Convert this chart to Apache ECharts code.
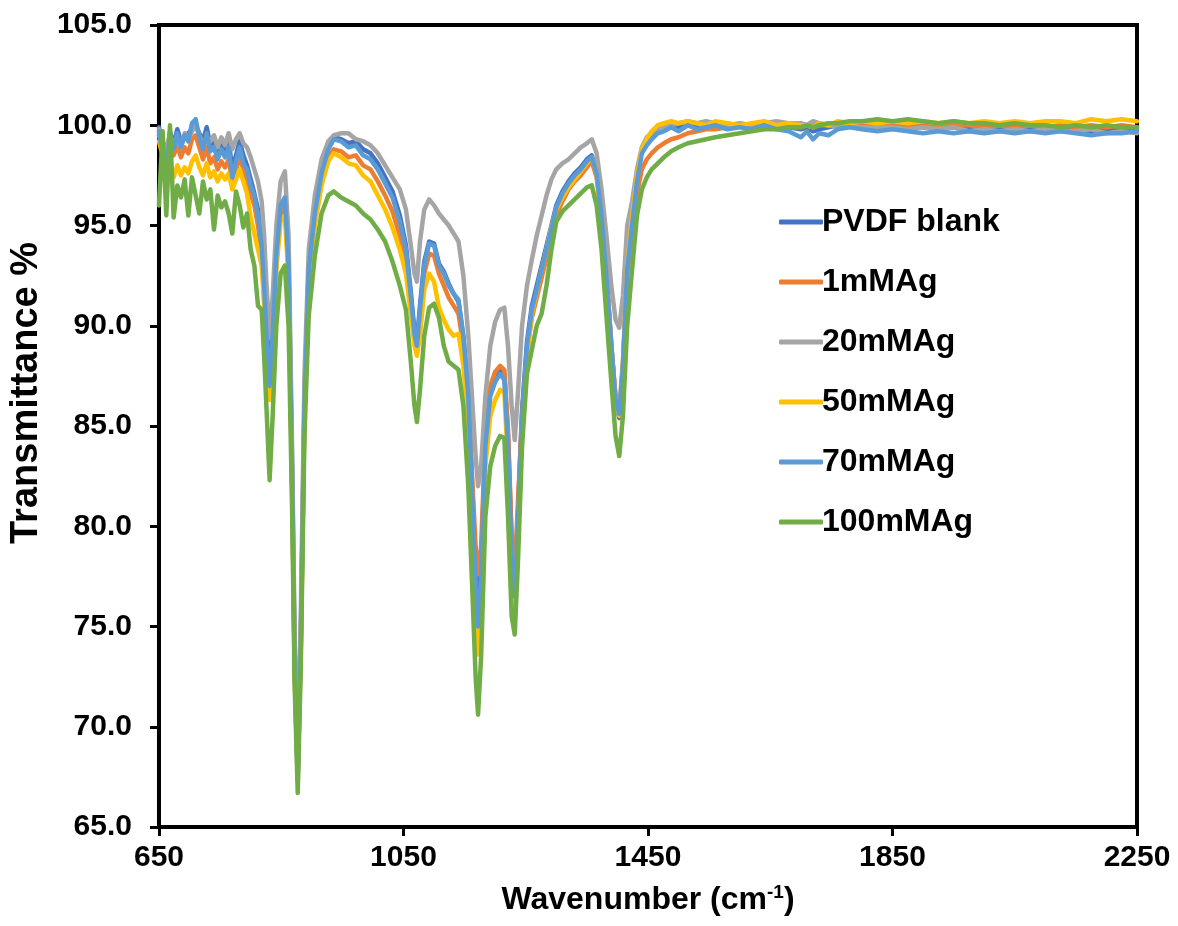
<!DOCTYPE html>
<html>
<head>
<meta charset="utf-8">
<title>FTIR spectra</title>
<script src="https://cdn.jsdelivr.net/npm/echarts@6/dist/echarts.min.js"></script>
<style>
  html, body { margin: 0; padding: 0; background: #fff; }
  #chart { width: 1178px; height: 926px; }
</style>
</head>
<body>
<div id="chart"></div>
<script>
// wavenumber grid (cm-1), shared by every spectrum
const wavenumber = [
  650, 656, 662, 668, 674, 680, 686, 692, 698, 704,
  710, 716, 722, 728, 734, 740, 746, 752, 758, 764,
  770, 776, 782, 788, 794, 800,
  806, 812, 818, 822, 826, 831, 836, 842, 849, 856,
  862, 868, 872, 877, 882, 888, 895, 905, 916, 927,
  936, 948, 960, 972, 984, 996, 1008, 1020, 1032, 1044,
  1054, 1062, 1068, 1072, 1077, 1084, 1092, 1100, 1108, 1116,
  1124, 1132, 1140, 1148, 1156, 1163, 1168, 1172, 1177, 1184,
  1192, 1200, 1208, 1215, 1221, 1227, 1232, 1237, 1244, 1252,
  1260, 1268, 1276, 1284, 1292, 1300, 1310, 1320, 1330, 1340,
  1350, 1358, 1366, 1374, 1382, 1390, 1397, 1403, 1409, 1416,
  1424, 1432, 1440, 1448, 1456, 1466, 1476, 1488, 1500, 1515,
  1530, 1545, 1560, 1580, 1600, 1620, 1640, 1660, 1680, 1700,
  1710, 1720, 1730, 1745, 1760, 1780, 1800, 1825, 1850, 1875,
  1900, 1925, 1950, 1975, 2000, 2025, 2050, 2075, 2100, 2125,
  2150, 2175, 2200, 2225, 2250
];

// transmittance %
const pvdfBlank = [
  99.9, 99.1, 98.4, 99.7, 99.0, 99.8, 99.2, 99.4, 99.6, 99.8,
  100.0, 99.6, 99.2, 99.9, 99.0, 99.3, 98.7, 99.1, 98.8, 99.2,
  97.8, 98.5, 99.2, 98.5, 98.0, 97.3,
  96.6, 95.8, 94.3, 92.3, 89.8, 87.5, 89.8, 93.6, 95.9, 96.2,
  93.2, 82.5, 73.5, 67.6, 74.5, 86.3, 92.9, 95.8, 97.8, 99.0,
  99.4, 99.3, 99.1, 99.2, 98.8, 98.6, 98.1, 97.4, 96.7, 95.5,
  94.0, 91.7, 89.7, 89.2, 91.0, 93.2, 94.2, 94.1, 93.1, 92.7,
  92.1, 91.6, 91.2, 89.4, 86.6, 81.5, 77.8, 76.0, 78.0, 84.3,
  86.7, 87.4, 87.8, 87.6, 84.5, 79.2, 77.2, 80.5, 85.8, 89.2,
  91.0, 92.0, 93.0, 94.0, 95.0, 96.0, 96.7, 97.2, 97.6, 97.9,
  98.3, 98.5, 97.7, 95.6, 92.6, 89.1, 86.2, 85.4, 87.9, 92.7,
  95.2, 97.4, 98.8, 99.2, 99.5, 99.7, 99.9, 100.0, 99.9, 100.1,
  100.0, 100.1, 100.0, 99.9, 100.0, 99.9, 100.1, 99.9, 99.9, 99.8,
  99.9, 99.7, 99.8, 99.9, 100.0, 100.0, 99.9, 99.9, 100.0, 99.9,
  99.9, 99.8, 99.9, 99.8, 99.9, 99.8, 99.9, 99.8, 99.9, 99.8,
  99.8, 99.7, 99.8, 99.7, 99.8
];

const ag1mM = [
  99.5, 98.8, 98.3, 99.1, 98.5, 99.0, 98.4, 98.9, 98.6, 99.3,
  99.5, 98.9, 98.3, 98.9, 98.1, 98.4, 97.8, 98.2, 97.9, 98.3,
  97.2, 97.7, 98.5, 97.8, 97.3, 96.6,
  96.0, 95.0, 93.5, 91.5, 89.0, 86.8, 89.2, 93.2, 95.6, 96.0,
  92.6, 81.8, 72.8, 67.6, 74.0, 85.8, 92.4, 95.2, 97.2, 98.4,
  98.8, 98.7, 98.4, 98.5, 98.0, 97.8, 97.2, 96.5, 95.7, 94.5,
  93.2, 91.0, 89.2, 88.7, 90.4, 92.6, 93.6, 93.5, 92.6, 92.0,
  91.4, 91.0, 90.6, 89.0, 86.5, 82.0, 79.0, 77.6, 79.0, 84.5,
  87.0, 87.7, 88.0, 87.8, 84.8, 79.5, 77.8, 81.0, 85.6, 88.6,
  90.4, 91.4, 92.4, 93.4, 94.4, 95.5, 96.2, 96.8, 97.2, 97.5,
  97.9, 98.2, 97.4, 95.3, 92.4, 89.0, 86.5, 85.8, 88.2, 92.6,
  94.6, 96.6, 97.8, 98.3, 98.6, 98.9, 99.1, 99.3, 99.4, 99.6,
  99.7, 99.8, 99.8, 99.9, 100.0, 99.9, 100.1, 100.0, 99.9, 99.9,
  100.0, 99.9, 100.0, 100.0, 100.1, 100.0, 100.1, 100.0, 100.1, 100.0,
  100.0, 99.9, 100.0, 100.0, 99.9, 100.0, 99.9, 100.0, 99.9, 100.0,
  99.9, 100.0, 99.9, 100.0, 99.9
];

const ag20mM = [
  99.8, 99.2, 98.8, 99.5, 99.0, 99.4, 98.9, 99.6, 99.3, 99.7,
  100.0, 99.5, 99.0, 99.4, 99.2, 99.5, 98.9, 99.4, 99.0, 99.6,
  98.8, 99.3, 99.6, 99.1, 98.9, 98.4,
  97.8, 97.2, 96.2, 94.5, 92.0, 89.5, 91.5, 95.0, 97.2, 97.7,
  94.5, 83.5, 74.5, 68.5, 75.5, 87.5, 93.8, 96.5, 98.3, 99.2,
  99.5, 99.6, 99.6, 99.3, 99.2, 99.0, 98.6, 98.0, 97.4, 96.8,
  95.8, 94.0, 92.6, 92.2, 94.2, 95.8, 96.3, 96.0, 95.6, 95.3,
  95.0, 94.6, 94.2, 92.5, 89.5, 86.0, 83.5, 82.0, 83.0, 86.5,
  89.0, 90.2, 90.8, 90.9, 89.0, 86.0, 84.3, 86.5, 90.0, 92.0,
  93.3, 94.5, 95.5, 96.5, 97.3, 97.8, 98.1, 98.3, 98.6, 98.9,
  99.1, 99.3, 98.6, 96.8, 94.5, 92.0, 90.3, 89.9, 91.5, 95.0,
  96.2, 97.8, 98.9, 99.4, 99.6, 99.8, 99.9, 100.0, 100.1, 100.2,
  100.1, 100.2, 100.1, 100.0, 100.1, 100.0, 100.1, 100.2, 100.1, 100.1,
  100.0, 100.2, 100.1, 100.0, 99.9, 100.0, 99.9, 99.9, 99.9, 99.8,
  99.9, 99.8, 99.9, 99.7, 99.8, 99.7, 99.8, 99.7, 99.8, 99.7,
  99.7, 99.8, 99.6, 99.7, 99.6
];

const ag50mM = [
  99.2, 98.5, 97.6, 97.9, 97.4, 98.0, 97.5, 97.9, 97.6, 98.2,
  98.5, 97.9, 97.5, 98.1, 97.4, 97.7, 97.2, 97.6, 97.3, 97.6,
  96.8, 97.3, 97.8, 97.2, 96.6, 95.4,
  94.6, 93.8, 93.0, 91.0, 88.5, 86.3, 88.8, 92.8, 95.2, 95.5,
  92.3, 81.5, 72.5, 67.5, 73.8, 85.5, 92.2, 95.0, 97.0, 98.2,
  98.6, 98.4, 98.1, 98.0, 97.5, 97.2, 96.5, 95.8, 94.9, 93.8,
  92.6, 90.6, 89.0, 88.5, 89.5, 91.8, 92.6, 92.2, 90.9, 90.3,
  89.8, 89.5, 89.6, 88.0, 85.0, 79.5, 75.5, 73.6, 76.0, 83.0,
  85.5, 86.3, 86.8, 86.7, 83.0, 77.5, 76.0, 79.5, 85.0, 88.5,
  90.6, 91.7, 92.8, 93.8, 94.9, 95.8, 96.4, 96.9, 97.3, 97.7,
  98.1, 98.4, 97.6, 95.4, 92.4, 88.9, 86.2, 85.5, 88.0, 93.0,
  95.4, 97.5, 98.8, 99.3, 99.7, 100.0, 100.1, 100.2, 100.1, 100.2,
  100.1, 100.0, 100.2, 100.1, 100.0, 100.1, 100.2, 100.0, 100.1, 100.0,
  100.0, 99.9, 100.1, 100.0, 100.2, 100.1, 100.2, 100.1, 100.2, 100.1,
  100.2, 100.1, 100.2, 100.1, 100.2, 100.1, 100.2, 100.1, 100.2, 100.2,
  100.1, 100.3, 100.2, 100.3, 100.2
];

const ag70mM = [
  99.7, 98.6, 98.0, 99.4, 98.8, 99.6, 98.9, 99.5, 99.2, 100.1,
  100.3, 99.4, 98.8, 99.6, 98.7, 98.9, 98.3, 98.8, 98.4, 98.9,
  97.4, 98.2, 98.9, 98.1, 97.8, 97.0,
  96.5, 95.5, 94.0, 92.0, 89.5, 87.0, 89.5, 93.5, 96.0, 96.4,
  93.0, 82.0, 73.0, 67.3, 74.0, 86.0, 92.8, 95.6, 97.6, 98.8,
  99.3, 99.2, 98.9, 99.0, 98.5, 98.3, 97.8, 97.1, 96.4, 95.2,
  93.8, 91.5, 89.6, 89.0, 90.8, 93.0, 94.1, 94.0, 93.0, 92.6,
  92.0, 91.6, 91.3, 89.5, 86.5, 81.0, 77.0, 75.0, 77.5, 84.0,
  86.5, 87.2, 87.6, 87.3, 84.0, 78.5, 76.5, 80.0, 85.5, 89.0,
  90.8, 91.8, 92.8, 93.8, 94.8, 95.9, 96.6, 97.1, 97.5, 97.8,
  98.2, 98.4, 97.6, 95.5, 92.5, 89.0, 86.3, 85.6, 88.0, 92.8,
  95.0, 97.2, 98.6, 99.0, 99.3, 99.6, 99.7, 99.9, 99.7, 100.0,
  99.8, 99.9, 100.0, 99.8, 99.9, 99.8, 100.0, 99.8, 99.7, 99.4,
  99.7, 99.3, 99.6, 99.5, 99.8, 99.9, 99.8, 99.7, 99.8, 99.7,
  99.6, 99.7, 99.6, 99.7, 99.6, 99.7, 99.6, 99.7, 99.6, 99.7,
  99.6, 99.5, 99.6, 99.6, 99.7
];

const ag100mM = [
  96.0, 99.7, 95.5, 100.0, 95.4, 97.0, 96.4, 97.3, 95.5, 97.4,
  96.5, 95.6, 97.2, 96.3, 96.8, 94.8, 96.5, 95.9, 96.2, 95.6,
  94.6, 96.7, 96.0, 94.9, 95.6, 93.8,
  93.0, 91.0, 90.8, 88.5, 85.8, 82.3, 85.5, 90.0, 92.6, 93.0,
  90.0, 80.5, 72.0, 66.7, 73.0, 84.5, 90.5, 93.5, 95.6, 96.5,
  96.7, 96.4, 96.2, 96.0, 95.6, 95.3, 94.8, 94.2, 93.2, 92.0,
  90.8, 88.2, 86.0, 85.2, 86.8, 89.5, 90.9, 91.1, 90.4, 89.0,
  88.2, 88.0, 87.8, 86.0, 82.0, 76.5, 72.5, 70.6, 73.5, 80.5,
  83.0, 84.0, 84.5, 84.4, 80.5, 75.5, 74.6, 78.0, 84.0, 87.6,
  88.8, 90.0, 90.6, 92.0, 93.8, 95.2, 95.7, 96.0, 96.3, 96.6,
  96.9, 97.0, 96.0, 93.8, 90.5, 87.2, 84.5, 83.5, 85.5, 90.0,
  92.8, 95.5, 96.8, 97.4, 97.8, 98.1, 98.4, 98.7, 98.9, 99.1,
  99.2, 99.3, 99.4, 99.5, 99.6, 99.7, 99.8, 99.8, 99.9, 99.9,
  100.0, 99.9, 100.0, 100.1, 100.1, 100.2, 100.2, 100.3, 100.2, 100.3,
  100.2, 100.1, 100.2, 100.1, 100.1, 100.0, 100.1, 100.0, 100.0, 99.9,
  100.0, 99.9, 100.0, 99.9, 99.9
];

const seriesNames = ['PVDF blank', '1mMAg', '20mMAg', '50mMAg', '70mMAg', '100mMAg'];
const seriesValues = [pvdfBlank, ag1mM, ag20mM, ag50mM, ag70mM, ag100mM];
const seriesColors = ['#4472C4', '#ED7D31', '#A5A5A5', '#FFC000', '#5B9BD5', '#70AD47'];

seriesValues.forEach(function (arr, i) {
  if (arr.length !== wavenumber.length) {
    throw new Error(seriesNames[i] + ' has ' + arr.length + ' values, expected ' + wavenumber.length);
  }
});

const FONT = "'Liberation Sans', Arial, sans-serif";

const chart = echarts.init(document.getElementById('chart'));

chart.setOption({
  animation: false,
  color: seriesColors,
  grid: {
    left: 157,
    right: 41,
    top: 25,
    bottom: 99,
    show: true,
    borderColor: '#000',
    borderWidth: 4
  },
  legend: {
    orient: 'vertical',
    left: 774,
    top: 201,
    icon: 'roundRect',
    itemWidth: 44,
    itemHeight: 5,
    itemGap: 28,
    textStyle: {
      fontFamily: FONT,
      fontWeight: 'bold',
      fontSize: 32,
      color: '#000',
      padding: [0, 0, 0, -6]
    },
    data: seriesNames
  },
  xAxis: {
    type: 'value',
    min: 650,
    max: 2250,
    interval: 400,
    name: 'Wavenumber (cm{sup|-1})',
    nameLocation: 'middle',
    nameGap: 56,
    nameTextStyle: {
      fontFamily: FONT,
      fontWeight: 'bold',
      fontSize: 32,
      color: '#000',
      rich: {
        sup: {
          fontFamily: FONT,
          fontWeight: 'bold',
          fontSize: 19,
          color: '#000',
          padding: [0, 0, 15, 0]
        }
      }
    },
    axisLine: { show: true, lineStyle: { color: '#000', width: 4 } },
    axisTick: { show: true, inside: false, length: 9, lineStyle: { color: '#000', width: 3 } },
    axisLabel: {
      margin: 16,
      fontFamily: FONT,
      fontWeight: 'bold',
      fontSize: 30,
      color: '#000',
      formatter: function (v) { return String(v); }
    },
    splitLine: { show: false }
  },
  yAxis: {
    type: 'value',
    min: 65,
    max: 105,
    interval: 5,
    name: 'Transmittance %',
    nameLocation: 'middle',
    nameRotate: 90,
    nameGap: 111,
    nameTextStyle: {
      fontFamily: FONT,
      fontWeight: 'bold',
      fontSize: 38,
      color: '#000',
      padding: [0, 0, 0, 66]
    },
    axisLine: { show: true, lineStyle: { color: '#000', width: 4 } },
    axisTick: { show: true, inside: false, length: 9, lineStyle: { color: '#000', width: 3 } },
    axisLabel: {
      margin: 27,
      fontFamily: FONT,
      fontWeight: 'bold',
      fontSize: 30,
      color: '#000',
      formatter: function (v) { return v.toFixed(1); }
    },
    splitLine: { show: false }
  },
  series: seriesNames.map(function (name, i) {
    return {
      name: name,
      type: 'line',
      showSymbol: false,
      symbol: 'none',
      smooth: false,
      lineStyle: { width: 4.5, color: seriesColors[i], cap: 'round', join: 'round' },
      itemStyle: { color: seriesColors[i] },
      data: wavenumber.map(function (x, j) { return [x, seriesValues[i][j]]; })
    };
  })
});
</script>
</body>
</html>
